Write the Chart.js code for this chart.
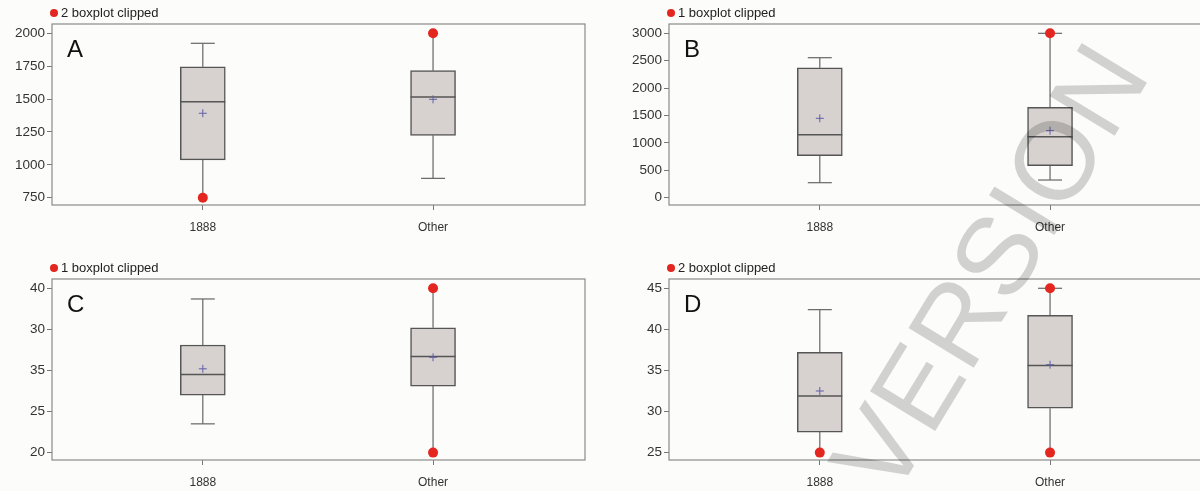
<!DOCTYPE html>
<html>
<head>
<meta charset="utf-8">
<script src="https://cdn.jsdelivr.net/npm/chart.js@4"></script>
<style>
  html, body { margin: 0; padding: 0; }
  body { width: 1200px; height: 491px; overflow: hidden; position: relative; background: #fcfcfa; }
  .panel { position: absolute; }
  #wm { position: absolute; left: 0; top: 0; pointer-events: none; }
</style>
</head>
<body>
<div class="panel" style="left:0;top:0;width:600px;height:245px"><canvas id="chartA"></canvas></div>
<div class="panel" style="left:600px;top:0;width:620px;height:245px"><canvas id="chartB"></canvas></div>
<div class="panel" style="left:0;top:255px;width:600px;height:236px"><canvas id="chartC"></canvas></div>
<div class="panel" style="left:600px;top:255px;width:620px;height:236px"><canvas id="chartD"></canvas></div>
<canvas id="wm" width="1200" height="491"></canvas>
<script>
const categories = ['1888', 'Other'];

// A
const ticksA = [750, 1000, 1250, 1500, 1750, 2000];
const labelsA = ['750', '1000', '1250', '1500', '1750', '2000'];
const q1A = [1037, 1224];
const medA = [1480, 1516];
const q3A = [1746, 1716];
const meanA = [1392, 1498];
const loA = [700, 897];
const hiA = [1924, 2100];
const outA = [[], []];

// B
const ticksB = [0, 500, 1000, 1500, 2000, 2500, 3000];
const labelsB = ['0', '500', '1000', '1500', '2000', '2500', '3000'];
const q1B = [766, 584];
const medB = [1150, 1113];
const q3B = [2372, 1650];
const meanB = [1449, 1223];
const loB = [274, 323];
const hiB = [2555, 3000];
const outB = [[], [3300]];

// C (tick labels as printed in the original)
const ticksC = [20, 25, 30, 35, 40];
const labelsC = ['20', '25', '35', '30', '40'];
const q1C = [27.0, 28.1];
const medC = [29.5, 31.7];
const q3C = [33.1, 35.2];
const meanC = [30.2, 31.6];
const loC = [23.5, 19];
const hiC = [38.7, 41];
const outC = [[], []];

// D
const ticksD = [25, 30, 35, 40, 45];
const labelsD = ['25', '30', '35', '40', '45'];
const q1D = [27.5, 30.4];
const medD = [31.9, 35.6];
const q3D = [37.2, 41.7];
const meanD = [32.5, 35.7];
const loD = [24, 24];
const hiD = [42.4, 45];
const outD = [[], [46]];

const FONT = "'Liberation Sans', Arial, sans-serif";

const boxPlugin = {
    id: 'boxExtras',
    beforeDatasetsDraw(chart, args, opts) {
        const { ctx, chartArea: a, scales } = chart;
        const lo = opts.ticks[0], hi = opts.ticks[opts.ticks.length - 1];
        ctx.save();
        ctx.strokeStyle = '#8a8a8a';
        ctx.lineWidth = 1.2;
        ctx.strokeRect(a.left, a.top, a.right - a.left, a.bottom - a.top);
        ctx.strokeStyle = '#666';
        ctx.lineWidth = 1.2;
        for (let i = 0; i < categories.length; i++) {
            const x = scales.x.getPixelForValue(i + 1);
            ctx.beginPath();
            ctx.moveTo(x, scales.y.getPixelForValue(opts.q3[i]));
            ctx.lineTo(x, scales.y.getPixelForValue(Math.min(opts.hi[i], hi)));
            ctx.moveTo(x, scales.y.getPixelForValue(opts.q1[i]));
            ctx.lineTo(x, scales.y.getPixelForValue(Math.max(opts.lo[i], lo)));
            ctx.stroke();
        }
        ctx.restore();
    },
    afterDraw(chart, args, opts) {
        const { ctx, chartArea: a } = chart;
        ctx.save();
        ctx.fillStyle = '#111';
        ctx.font = '24px ' + FONT;
        ctx.textBaseline = 'alphabetic';
        ctx.fillText(opts.letter, a.left + 15, a.top + 33);
        ctx.fillStyle = '#e3261f';
        ctx.beginPath();
        ctx.arc(a.left + 2, a.top - 11, 4, 0, Math.PI * 2);
        ctx.fill();
        ctx.fillStyle = '#222';
        ctx.font = '13px ' + FONT;
        ctx.textBaseline = 'middle';
        ctx.fillText(opts.title, a.left + 9, a.top - 11);
        ctx.restore();
    }
};

function makePanel(id, p) {
    const lo = p.ticks[0], hi = p.ticks[p.ticks.length - 1];
    const caps = [];
    const clipped = [];
    categories.forEach((c, i) => {
        if (p.hi[i] > hi) clipped.push({ x: i + 1, y: hi }); else caps.push({ x: i + 1, y: p.hi[i] });
        if (p.lo[i] < lo) clipped.push({ x: i + 1, y: lo }); else caps.push({ x: i + 1, y: p.lo[i] });
        p.out[i].forEach(v => clipped.push({ x: i + 1, y: Math.min(Math.max(v, lo), hi) }));
    });

    new Chart(id, {
        type: 'bar',
        data: {
            datasets: [{
                type: 'scatter',
                data: clipped,
                pointRadius: 5,
                backgroundColor: '#e3261f',
                borderWidth: 0,
                clip: false,
                order: 1
            }, {
                type: 'scatter',
                data: p.mean.map((v, i) => ({ x: i + 1, y: v })),
                pointStyle: 'cross',
                pointRadius: 4,
                borderColor: '#6060a8',
                borderWidth: 1,
                order: 2
            }, {
                type: 'scatter',
                data: p.med.map((v, i) => ({ x: i + 1, y: v })),
                pointStyle: 'line',
                pointRadius: 22.5,
                borderColor: '#555',
                borderWidth: 1.5,
                order: 3
            }, {
                type: 'scatter',
                data: caps,
                pointStyle: 'line',
                pointRadius: 12,
                borderColor: '#666',
                borderWidth: 1.2,
                order: 4
            }, {
                type: 'bar',
                data: p.q1.map((v, i) => ({ x: i + 1, y: [v, p.q3[i]] })),
                backgroundColor: '#d7d2cf',
                borderColor: '#555',
                borderWidth: 1.5,
                borderSkipped: false,
                barThickness: 45,
                order: 5
            }]
        },
        options: {
            responsive: true,
            maintainAspectRatio: false,
            animation: false,
            layout: { autoPadding: false, padding: { top: 24, left: 0, right: p.right, bottom: 0 } },
            plugins: {
                legend: { display: false },
                tooltip: { enabled: false },
                boxExtras: {
                    letter: p.letter, title: p.title, ticks: p.ticks,
                    q1: p.q1, q3: p.q3, lo: p.lo, hi: p.hi
                }
            },
            scales: {
                x: {
                    type: 'linear',
                    offset: false,
                    min: 0.345,
                    max: 2.66,
                    afterBuildTicks: s => { s.ticks = categories.map((c, i) => ({ value: i + 1 })); },
                    afterFit: s => { s.height = p.xHeight; s.paddingLeft = 0; s.paddingRight = 0; },
                    grid: { offset: false, drawOnChartArea: false, drawTicks: true, tickLength: 5, color: '#777' },
                    border: { display: false },
                    ticks: {
                        autoSkip: false, maxRotation: 0, padding: 10,
                        color: '#333', font: { family: FONT, size: 12 },
                        callback: v => categories[v - 1]
                    }
                },
                y: {
                    min: p.min,
                    max: p.max,
                    afterBuildTicks: s => { s.ticks = p.ticks.map(v => ({ value: v })); },
                    afterFit: s => { s.width = p.yWidth; s.paddingTop = 0; s.paddingBottom = 0; },
                    grid: { drawOnChartArea: false, drawTicks: true, tickLength: 5, color: '#777' },
                    border: { display: false },
                    ticks: {
                        autoSkip: false, padding: 2,
                        color: '#333', font: { family: FONT, size: 13.5 },
                        callback: (v, idx) => p.labels[idx]
                    }
                }
            }
        },
        plugins: [boxPlugin]
    });
}

makePanel('chartA', { letter: 'A', title: '2 boxplot clipped', ticks: ticksA, labels: labelsA, min: 694.5, max: 2070.7,
    q1: q1A, med: medA, q3: q3A, mean: meanA, lo: loA, hi: hiA, out: outA, yWidth: 52, xHeight: 40, right: 15 });
makePanel('chartB', { letter: 'B', title: '1 boxplot clipped', ticks: ticksB, labels: labelsB, min: -133, max: 3170,
    q1: q1B, med: medB, q3: q3B, mean: meanB, lo: loB, hi: hiB, out: outB, yWidth: 69, xHeight: 40, right: 18 });
makePanel('chartC', { letter: 'C', title: '1 boxplot clipped', ticks: ticksC, labels: labelsC, min: 19.1, max: 41.13,
    q1: q1C, med: medC, q3: q3C, mean: meanC, lo: loC, hi: hiC, out: outC, yWidth: 52, xHeight: 31, right: 15 });
makePanel('chartD', { letter: 'D', title: '2 boxplot clipped', ticks: ticksD, labels: labelsD, min: 24.1, max: 46.13,
    q1: q1D, med: medD, q3: q3D, mean: meanD, lo: loD, hi: hiD, out: outD, yWidth: 69, xHeight: 31, right: 18 });

// watermark
const wm = document.getElementById('wm').getContext('2d');
wm.save();
wm.translate(892, 502);
wm.rotate(-58.7 * Math.PI / 180);
wm.fillStyle = 'rgba(0,0,0,0.17)';
wm.font = '111px ' + FONT;
wm.fillText('VERSION', 0, 0);
wm.restore();
</script>
</body>
</html>
